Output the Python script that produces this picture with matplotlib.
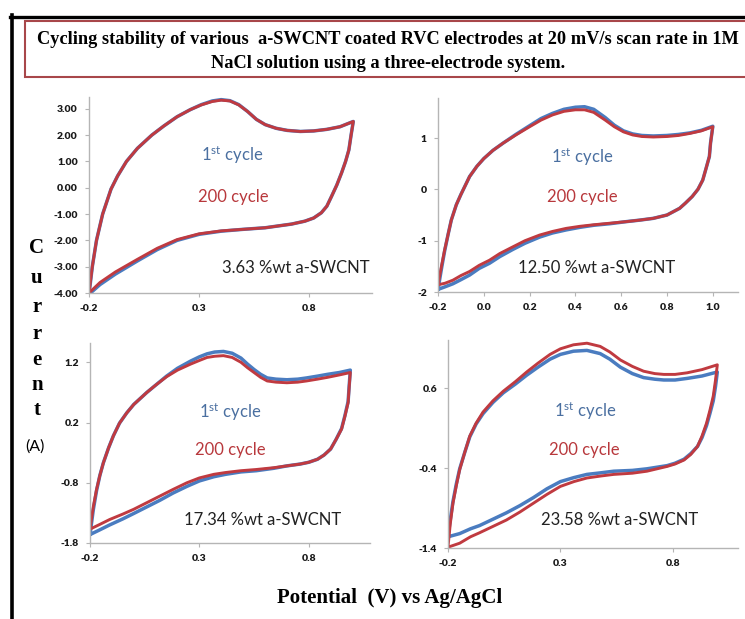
import matplotlib
matplotlib.use("Agg")
import matplotlib.pyplot as plt
from matplotlib.patches import Rectangle
from matplotlib.lines import Line2D
from matplotlib.ticker import FormatStrFormatter

W, H = 745, 619
RED = "#c03a40"
BLUE = "#4a7cc0"

# ---------------- data ----------------
# Panel 1: 3.63 %wt
p1_xf = [-0.2, -0.185, -0.166, -0.138, -0.12, -0.10, -0.07, -0.03, 0.02, 0.085, 0.14, 0.20, 0.26, 0.31,
         0.36, 0.40, 0.44, 0.48, 0.52, 0.56, 0.60, 0.65, 0.70, 0.76, 0.82, 0.88, 0.94, 1.0]
p1_yf_red = [-4.0, -3.0, -2.0, -1.0, -0.55, -0.05, 0.45, 1.0, 1.5, 2.0, 2.35, 2.7, 2.97, 3.15,
             3.28, 3.33, 3.3, 3.15, 2.9, 2.6, 2.4, 2.26, 2.18, 2.14, 2.16, 2.22, 2.32, 2.52]
p1_yf_blue = [-4.05, -3.0, -2.0, -1.0, -0.55, -0.05, 0.45, 1.0, 1.5, 2.0, 2.35, 2.7, 2.97, 3.16,
              3.3, 3.35, 3.31, 3.16, 2.9, 2.6, 2.4, 2.26, 2.18, 2.14, 2.16, 2.22, 2.32, 2.52]
p1_xr = [1.0, 0.99, 0.98, 0.965, 0.947, 0.925, 0.9, 0.88, 0.855, 0.82, 0.78, 0.72, 0.6, 0.5, 0.4, 0.3,
         0.2, 0.11, 0.02, -0.08, -0.15, -0.2]
p1_yr_red = [2.52, 2.0, 1.44, 1.0, 0.57, 0.1, -0.35, -0.7, -0.95, -1.15, -1.27, -1.38, -1.52, -1.58,
             -1.64, -1.75, -1.97, -2.3, -2.72, -3.2, -3.6, -4.0]
p1_yr_blue = [2.52, 2.0, 1.44, 1.0, 0.57, 0.1, -0.35, -0.7, -0.95, -1.15, -1.27, -1.38, -1.52, -1.58,
              -1.65, -1.77, -2.0, -2.35, -2.78, -3.28, -3.68, -4.05]

# Panel 2: 12.50 %wt
p2_xf = [-0.2, -0.185, -0.171, -0.156, -0.142, -0.12, -0.1, -0.062, -0.03, 0.0, 0.04, 0.084, 0.14, 0.2,
         0.25, 0.3, 0.35, 0.4, 0.44, 0.48, 0.53, 0.57, 0.61, 0.65, 0.69, 0.74, 0.8, 0.85, 0.9, 0.95, 1.0]
p2_yf_red = [-1.86, -1.5, -1.18, -0.88, -0.6, -0.3, -0.1, 0.25, 0.45, 0.6, 0.76, 0.9, 1.06, 1.22,
             1.35, 1.45, 1.52, 1.55, 1.55, 1.5, 1.35, 1.22, 1.12, 1.06, 1.03, 1.02, 1.03, 1.05, 1.09, 1.14, 1.22]
p2_yf_blue = [-1.95, -1.55, -1.2, -0.88, -0.6, -0.3, -0.1, 0.25, 0.45, 0.6, 0.76, 0.9, 1.07, 1.24,
              1.38, 1.48, 1.56, 1.6, 1.61, 1.56, 1.4, 1.25, 1.14, 1.08, 1.05, 1.04, 1.05, 1.07, 1.1, 1.15, 1.23]
p2_xr = [1.0, 0.99, 0.985, 0.97, 0.956, 0.935, 0.91, 0.88, 0.855, 0.8, 0.74, 0.68, 0.62, 0.55, 0.48,
         0.42, 0.36, 0.3, 0.244, 0.18, 0.127, 0.07, 0.025, -0.02, -0.062, -0.1, -0.135, -0.17, -0.2]
p2_yr_red = [1.22, 0.9, 0.64, 0.4, 0.18, 0.0, -0.14, -0.27, -0.37, -0.5, -0.565, -0.6, -0.63, -0.66,
             -0.69, -0.72, -0.76, -0.82, -0.89, -1.0, -1.12, -1.25, -1.38, -1.48, -1.6, -1.68, -1.77, -1.83, -1.86]
p2_yr_blue = [1.23, 0.9, 0.64, 0.4, 0.18, 0.0, -0.14, -0.27, -0.37, -0.5, -0.565, -0.6, -0.63, -0.67,
              -0.7, -0.74, -0.79, -0.85, -0.93, -1.05, -1.17, -1.31, -1.44, -1.54, -1.67, -1.76, -1.84, -1.9, -1.95]

# Panel 3: 17.34 %wt
p3_xf = [-0.2, -0.185, -0.17, -0.155, -0.139, -0.115, -0.093, -0.065, -0.032, 0.0, 0.06, 0.1, 0.15, 0.2,
         0.26, 0.3, 0.335, 0.37, 0.41, 0.45, 0.49, 0.52, 0.55, 0.58, 0.61, 0.65, 0.7, 0.75, 0.79, 0.84,
         0.886, 0.94, 0.99]
p3_yf_red = [-1.57, -1.2, -0.91, -0.68, -0.47, -0.22, -0.02, 0.19, 0.36, 0.5, 0.7, 0.82, 0.96, 1.07,
             1.17, 1.23, 1.28, 1.3, 1.31, 1.28, 1.2, 1.11, 1.03, 0.95, 0.89, 0.87, 0.86, 0.87, 0.89, 0.92,
             0.95, 0.99, 1.03]
p3_yf_blue = [-1.66, -1.25, -0.93, -0.68, -0.47, -0.22, -0.02, 0.19, 0.36, 0.5, 0.7, 0.82, 0.97, 1.1,
              1.22, 1.29, 1.34, 1.37, 1.38, 1.35, 1.27, 1.17, 1.08, 1.0, 0.94, 0.92, 0.91, 0.92, 0.94, 0.97,
              1.0, 1.03, 1.07]
p3_xr = [0.99, 0.985, 0.98, 0.965, 0.95, 0.925, 0.9, 0.87, 0.84, 0.8, 0.76, 0.7, 0.64, 0.56, 0.49, 0.42,
         0.366, 0.3, 0.243, 0.18, 0.12, 0.06, 0.0, -0.05, -0.11, -0.16, -0.2]
p3_yr_red = [1.03, 0.8, 0.53, 0.3, 0.09, -0.08, -0.24, -0.34, -0.41, -0.46, -0.49, -0.52, -0.55, -0.58,
             -0.6, -0.63, -0.66, -0.72, -0.8, -0.91, -1.02, -1.13, -1.24, -1.32, -1.41, -1.5, -1.57]
p3_yr_blue = [1.07, 0.82, 0.55, 0.31, 0.1, -0.08, -0.24, -0.34, -0.41, -0.46, -0.49, -0.52, -0.56, -0.6,
              -0.62, -0.66, -0.7, -0.77, -0.86, -0.97, -1.09, -1.2, -1.31, -1.4, -1.5, -1.59, -1.66]

# Panel 4: 23.58 %wt
p4_xf = [-0.2, -0.19, -0.178, -0.163, -0.148, -0.125, -0.103, -0.075, -0.044, 0.0, 0.046, 0.1, 0.15,
         0.2, 0.254, 0.3, 0.358, 0.418, 0.477, 0.52, 0.567, 0.62, 0.67, 0.72, 0.76, 0.81, 0.864, 0.93, 0.998]
p4_yf_red = [-1.39, -1.1, -0.84, -0.62, -0.42, -0.2, 0.0, 0.16, 0.3, 0.44, 0.56, 0.68, 0.8, 0.91, 1.02,
             1.09, 1.14, 1.16, 1.12, 1.05, 0.95, 0.87, 0.81, 0.78, 0.77, 0.77, 0.79, 0.83, 0.89]
p4_yf_blue = [-1.26, -1.05, -0.82, -0.6, -0.41, -0.2, -0.01, 0.15, 0.28, 0.42, 0.54, 0.65, 0.76, 0.86,
              0.96, 1.02, 1.06, 1.07, 1.03, 0.96, 0.86, 0.78, 0.73, 0.71, 0.7, 0.7, 0.72, 0.75, 0.8]
p4_xr = [0.998, 0.99, 0.98, 0.965, 0.95, 0.93, 0.91, 0.88, 0.85, 0.81, 0.775, 0.73, 0.685, 0.62, 0.537,
         0.48, 0.418, 0.36, 0.3, 0.24, 0.18, 0.12, 0.06, 0.0, -0.06, -0.1, -0.148, -0.2]
p4_yr_red = [0.89, 0.7, 0.5, 0.32, 0.16, 0.0, -0.13, -0.23, -0.3, -0.35, -0.38, -0.41, -0.44, -0.465,
             -0.48, -0.5, -0.525, -0.57, -0.63, -0.73, -0.84, -0.95, -1.05, -1.13, -1.21, -1.26, -1.34, -1.39]
p4_yr_blue = [0.8, 0.62, 0.44, 0.28, 0.13, -0.02, -0.13, -0.22, -0.29, -0.34, -0.37, -0.39, -0.41, -0.43,
              -0.44, -0.46, -0.48, -0.52, -0.57, -0.66, -0.77, -0.87, -0.96, -1.04, -1.12, -1.16, -1.22, -1.26]

labels = ["3.63 %wt a-SWCNT", "12.50 %wt a-SWCNT", "17.34 %wt a-SWCNT", "23.58 %wt a-SWCNT"]
yticks = [[-4, -3, -2, -1, 0, 1, 2, 3], [-2, -1, 0, 1], [-1.8, -0.8, 0.2, 1.2], [-1.4, -0.4, 0.6]]
xticks = [[-0.2, 0.3, 0.8], [-0.2, 0.0, 0.2, 0.4, 0.6, 0.8, 1.0], [-0.2, 0.3, 0.8], [-0.2, 0.3, 0.8]]
yfmt = ["%.2f", "%d", "%.1f", "%.1f"]
ylims = [(-4, 3.45), (-2, 1.78), (-1.8, 1.52), (-1.4, 1.2)]
xlims = [(-0.2, 1.085), (-0.2, 1.11), (-0.2, 1.08), (-0.2, 1.09)]

panels = [
    (p1_xf, p1_yf_red, p1_yf_blue, p1_xr, p1_yr_red, p1_yr_blue),
    (p2_xf, p2_yf_red, p2_yf_blue, p2_xr, p2_yr_red, p2_yr_blue),
    (p3_xf, p3_yf_red, p3_yf_blue, p3_xr, p3_yr_red, p3_yr_blue),
    (p4_xf, p4_yf_red, p4_yf_blue, p4_xr, p4_yr_red, p4_yr_blue),
]

# axes boxes in pixels: left, right, bottom, top
boxes = [(89, 372, 293, 97), (438, 738, 292, 98), (90, 370, 543, 343), (448, 738, 548, 340)]
# text positions (pixels, centre)
txt_pos = [
    ((232, 155), (233, 197), (296, 268)),
    ((582, 157), (582, 197), (597, 268)),
    ((230, 412), (230, 450), (263, 520)),
    ((585, 411), (584, 450), (620, 520)),
]

plt.rcParams['mathtext.fontset'] = 'custom'
plt.rcParams['mathtext.rm'] = 'Lato'
plt.rcParams['mathtext.it'] = 'Lato'

fig = plt.figure(figsize=(W / 100, H / 100), dpi=100)
fig.patch.set_facecolor("white")


def fx(px):
    return px / W


def fy(py):
    return 1 - py / H


for i, (xf, yfr, yfb, xr, yrr, yrb) in enumerate(panels):
    l, r, b, t = boxes[i]
    ax = fig.add_axes([fx(l), fy(b), (r - l) / W, (b - t) / H])
    ax.plot(xf + xr, yfb + yrb, color=BLUE, lw=2.5, solid_joinstyle="round", solid_capstyle="round")
    ax.plot(xf + xr, yfr + yrr, color=RED, lw=2.1, solid_joinstyle="round", solid_capstyle="round")
    ax.set_xlim(*xlims[i])
    ax.set_ylim(*ylims[i])
    ax.set_xticks(xticks[i])
    ax.set_yticks(yticks[i])
    ax.yaxis.set_major_formatter(FormatStrFormatter(yfmt[i]))
    ax.xaxis.set_major_formatter(FormatStrFormatter("%.1f"))
    for s in ["top", "right"]:
        ax.spines[s].set_visible(False)
    for s in ["left", "bottom"]:
        ax.spines[s].set_color("#b5b5b5")
        ax.spines[s].set_linewidth(1.0)
    ax.tick_params(axis="both", direction="out", length=3, width=0.8, color="#b5b5b5",
                   labelsize=7.5, pad=5)
    for lab in ax.get_xticklabels() + ax.get_yticklabels():
        lab.set_fontweight("heavy")
        lab.set_family("Lato")
        lab.set_color("#1a1a1a")
    ax.patch.set_alpha(0)
    (a, bb, c) = txt_pos[i]
    fig.text(fx(a[0]), fy(a[1]), r"1$^{\mathrm{st}}$ cycle", color="#4a6fa0", fontsize=12,
             family="Lato", ha="center", va="center")
    fig.text(fx(bb[0]), fy(bb[1]), "200 cycle", color="#b8383c", fontsize=12,
             family="Lato", ha="center", va="center")
    fig.text(fx(c[0]), fy(c[1]), labels[i], color="#222222", fontsize=12,
             family="Lato", ha="center", va="center")

# outer black frame
fig.add_artist(Line2D([fx(11.5), fx(11.5)], [fy(15), 0], color="black", lw=2.6, transform=fig.transFigure))
fig.add_artist(Line2D([fx(10), 1], [fy(16.5), fy(16.5)], color="black", lw=2.4, transform=fig.transFigure))

# title box
fig.add_artist(Rectangle((fx(25), fy(77)), fx(770) - fx(25), (77 - 21) / H, transform=fig.transFigure,
                         facecolor="white", edgecolor="#a8474a", lw=1.5))
fig.text(fx(388), fy(39), "Cycling stability of various  a-SWCNT coated RVC electrodes at 20 mV/s scan rate in 1M",
         family="Liberation Serif", fontweight="bold", fontsize=13.2, ha="center", va="center")
fig.text(fx(388), fy(63), "NaCl solution using a three-electrode system.",
         family="Liberation Serif", fontweight="bold", fontsize=13.2, ha="center", va="center")

# y label (vertical letters)
letters = ["C", "u", "r", "r", "e", "n", "t"]
ys = [248, 278, 307, 334, 360, 385, 410]
for ch, yy in zip(letters, ys):
    fig.text(fx(37), fy(yy), ch, family="Liberation Serif", fontweight="bold", fontsize=15,
             ha="center", va="center")
fig.text(fx(35), fy(447), "(A)", family="Lato", fontsize=11.5, ha="center", va="center")

# x label
fig.text(fx(390), fy(598), "Potential  (V) vs Ag/AgCl", family="Liberation Serif", fontweight="bold",
         fontsize=15, ha="center", va="center")

fig.savefig("out.png", dpi=100, facecolor="white")
